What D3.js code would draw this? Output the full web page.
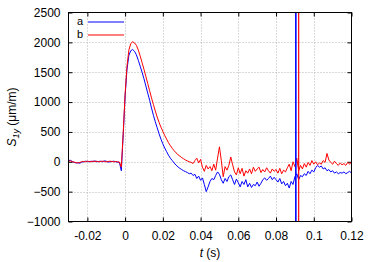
<!DOCTYPE html>
<html>
<head>
<meta charset="utf-8">
<script src="https://cdn.jsdelivr.net/npm/d3@7"></script>
<style>
  body { margin: 0; background: #fff; }
  svg { display: block; font-family: "Liberation Sans", Arial, sans-serif; }
  .tick text { font-size: 12px; fill: #000; }
</style>
</head>
<body>
<div id="chart"></div>
<script>
// sample times (s)
const time = [
  -0.030, -0.029, -0.028, -0.027, -0.026, -0.025, -0.024, -0.023, -0.022, -0.021,
  -0.020, -0.019, -0.018, -0.017, -0.016, -0.015, -0.014, -0.013, -0.012, -0.011,
  -0.010, -0.009, -0.008, -0.007, -0.006, -0.005, -0.004, -0.003, -0.002, -0.001,
  0.000, 0.001, 0.002, 0.003, 0.004, 0.005, 0.006, 0.007, 0.008, 0.009,
  0.010, 0.011, 0.012, 0.013, 0.014, 0.015, 0.016, 0.017, 0.018, 0.019,
  0.020, 0.021, 0.022, 0.023, 0.024, 0.025, 0.026, 0.027, 0.028, 0.029,
  0.030, 0.031, 0.032, 0.033, 0.034, 0.035, 0.036, 0.037, 0.038, 0.039,
  0.040, 0.041, 0.042, 0.043, 0.044, 0.045, 0.046, 0.047, 0.048, 0.049,
  0.050, 0.051, 0.052, 0.053, 0.054, 0.055, 0.056, 0.057, 0.058, 0.059,
  0.060, 0.061, 0.062, 0.063, 0.064, 0.065, 0.066, 0.067, 0.068, 0.069,
  0.070, 0.071, 0.072, 0.073, 0.074, 0.075, 0.076, 0.077, 0.078, 0.079,
  0.080, 0.081, 0.082, 0.083, 0.084, 0.085, 0.086, 0.087, 0.088, 0.089,
  0.090, 0.091, 0.092, 0.093, 0.094, 0.095, 0.096, 0.097, 0.098, 0.099,
  0.100, 0.101, 0.102, 0.103, 0.104, 0.105, 0.106, 0.107, 0.108, 0.109,
  0.110, 0.111, 0.112, 0.113, 0.114, 0.115, 0.116, 0.117, 0.118, 0.119,
  0.120
];

// strain S1y (µm/m), series a (blue)
const seriesA = [
  20, 25, 5, -10, -20, -15, -25, -5, 0, 10,
  5, 0, 10, 5, 15, 0, 5, 10, 0, 15,
  10, -5, 0, 5, 10, 0, -5, -10, -150, 450,
  1100, 1550, 1780, 1860, 1880, 1850, 1790, 1700, 1600, 1500,
  1390, 1270, 1150, 1030, 900, 780, 670, 570, 470, 380,
  300, 230, 170, 110, 60, 20, -20, -55, -85, -110,
  -130, -150, -165, -180, -200, -190, -230, -210, -280, -240,
  -310, -270, -380, -500, -420, -330, -280, -300, -230, -170,
  -210, -300, -360, -280, -330, -250, -220, -300, -380, -290,
  -350, -420, -330, -380, -300, -420, -360, -430, -380, -400,
  -340, -410, -360, -300, -270, -310, -280, -240, -300, -260,
  -300, -340, -280, -370, -330, -400, -360, -440, -330, -380,
  -250, -200, -300, -230, -250, -200, -230, -160, -200, -140,
  -170, -100, -60, -90, -70, -120, -100, -150, -130, -170,
  -150, -190, -170, -200, -180, -190, -170, -200, -180, -160,
  -190
];

// strain S1y (µm/m), series b (red)
const seriesB = [
  10, 15, 0, -5, -15, -20, -10, 0, 5, 0,
  10, 5, 0, 10, 5, 10, 0, 5, 10, 5,
  0, 5, 10, 5, 0, 5, 0, -5, -90, 480,
  1130, 1600, 1870, 1980, 2010, 1990, 1950, 1870, 1770, 1660,
  1550, 1430, 1310, 1190, 1070, 960, 850, 750, 660, 580,
  510, 440, 380, 320, 270, 225, 185, 150, 120, 95,
  70, 50, 30, 15, 0, -10, -30, 20, 60, -20,
  40, -90, -160, -60, -120, -80, -150, -40, -140, 60,
  250, 20, -250, -80, -140, -60, 80, -50, -170, -220,
  -100, -200, -110, -240, -150, -190, -120, -200, -90, -160,
  -120, -90, -180, -130, -170, -100, -150, -190, -120, -160,
  -130, -190, -110, -200, -140, -170, -100, -40, -150, 0,
  -80, 60, -150, -60, -120, -30, -90, -10, -60, 20,
  -40, 0, -50, -20, -40, 20, -10, 140, 30, -10,
  -40, 10, -30, -60, -20, -50, -30, -60, -10, -40,
  0
];

// vertical marker times (s)
const markerTimes = [0.0905, 0.092];

const seriesNames = ["a", "b"];
const seriesColors = ["#0000ff", "#ff0000"];

const xTicks = [-0.02, 0, 0.02, 0.04, 0.06, 0.08, 0.1, 0.12];
const yTicks = [-1000, -500, 0, 500, 1000, 1500, 2000, 2500];

const width = 374, height = 262;
const plotLeft = 68.5, plotRight = 351.5, plotTop = 12.5, plotBottom = 221.5;

const svg = d3.select("#chart").append("svg")
  .attr("width", width)
  .attr("height", height);

const x = d3.scaleLinear().domain([-0.03, 0.12]).range([plotLeft, plotRight]);
const y = d3.scaleLinear().domain([-1000, 2500]).range([plotBottom, plotTop]);

// grid
const grid = svg.append("g").attr("class", "grid")
  .attr("stroke", "#b4b4b4")
  .attr("stroke-width", 1)
  .attr("stroke-dasharray", "1,2");

grid.selectAll("line.gx")
  .data(xTicks.filter(d => d > -0.03 && d < 0.12))
  .enter().append("line")
  .attr("x1", d => Math.round(x(d)) + 0.5)
  .attr("x2", d => Math.round(x(d)) + 0.5)
  .attr("y1", plotTop)
  .attr("y2", plotBottom);

grid.selectAll("line.gy")
  .data(yTicks.filter(d => d > -1000 && d < 2500))
  .enter().append("line")
  .attr("y1", d => Math.round(y(d)) + 0.5)
  .attr("y2", d => Math.round(y(d)) + 0.5)
  .attr("x1", plotLeft)
  .attr("x2", plotRight);

// axes with inward ticks
const fmtX = d => d === 0 ? "0" : String(+d.toFixed(2));

svg.append("g")
  .attr("transform", `translate(0,${plotBottom})`)
  .call(d3.axisBottom(x).tickValues(xTicks).tickSize(-4).tickPadding(10).tickFormat(fmtX))
  .call(g => g.select(".domain").remove());

svg.append("g")
  .attr("transform", `translate(0,${plotTop})`)
  .call(d3.axisTop(x).tickValues(xTicks).tickSize(-4).tickFormat(""))
  .call(g => g.select(".domain").remove());

svg.append("g")
  .attr("transform", `translate(${plotLeft},0)`)
  .call(d3.axisLeft(y).tickValues(yTicks).tickSize(-4).tickPadding(8).tickFormat(d3.format("d")))
  .call(g => g.select(".domain").remove());

svg.append("g")
  .attr("transform", `translate(${plotRight},0)`)
  .call(d3.axisRight(y).tickValues(yTicks).tickSize(-4).tickFormat(""))
  .call(g => g.select(".domain").remove());

svg.selectAll(".tick line").attr("stroke", "#000");
svg.selectAll(".tick text").attr("font-size", 12).attr("font-family", "Liberation Sans, Arial, sans-serif");

// plot clip
svg.append("clipPath").attr("id", "clip")
  .append("rect")
  .attr("x", plotLeft).attr("y", plotTop)
  .attr("width", plotRight - plotLeft).attr("height", plotBottom - plotTop);

const line = d3.line()
  .x((d, i) => x(time[i]))
  .y(d => y(d));

const plot = svg.append("g").attr("clip-path", "url(#clip)");

[seriesA, seriesB].forEach((s, k) => {
  plot.append("path")
    .datum(s)
    .attr("fill", "none")
    .attr("stroke", seriesColors[k])
    .attr("stroke-width", 1)
    .attr("stroke-linejoin", "round")
    .attr("d", line);
});

// vertical markers
plot.selectAll("line.marker")
  .data(markerTimes)
  .enter().append("line")
  .attr("x1", d => x(d))
  .attr("x2", d => x(d))
  .attr("y1", plotTop)
  .attr("y2", plotBottom)
  .attr("stroke", (d, i) => seriesColors[i])
  .attr("stroke-width", (d, i) => i === 0 ? 1.6 : 1.2);

// frame
svg.append("rect")
  .attr("x", plotLeft).attr("y", plotTop)
  .attr("width", plotRight - plotLeft).attr("height", plotBottom - plotTop)
  .attr("fill", "none")
  .attr("stroke", "#000")
  .attr("stroke-width", 1);

// legend
const legend = svg.append("g").attr("class", "legend");
seriesNames.forEach((name, i) => {
  const ly = 21.5 + i * 13;
  legend.append("text")
    .attr("x", 83).attr("y", ly)
    .attr("dy", "0.35em")
    .attr("text-anchor", "end")
    .attr("font-size", 11)
    .text(name);
  legend.append("line")
    .attr("x1", 88).attr("x2", 124)
    .attr("y1", ly + 0.5).attr("y2", ly + 0.5)
    .attr("stroke", seriesColors[i])
    .attr("stroke-width", 1);
});

// axis labels
const xl = svg.append("text")
  .attr("x", (plotLeft + plotRight) / 2)
  .attr("y", 257)
  .attr("text-anchor", "middle")
  .attr("font-size", 12);
xl.append("tspan").attr("font-style", "italic").text("t");
xl.append("tspan").text(" (s)");

const yl = svg.append("text")
  .attr("transform", `translate(16,${(plotTop + plotBottom) / 2}) rotate(-90)`)
  .attr("text-anchor", "middle")
  .attr("font-size", 12);
yl.append("tspan").attr("font-style", "italic").text("S");
yl.append("tspan").attr("font-style", "italic").attr("font-size", 9).attr("dy", 3).text("1y");
yl.append("tspan").attr("dy", -3).text(" (μm/m)");
</script>
</body>
</html>
